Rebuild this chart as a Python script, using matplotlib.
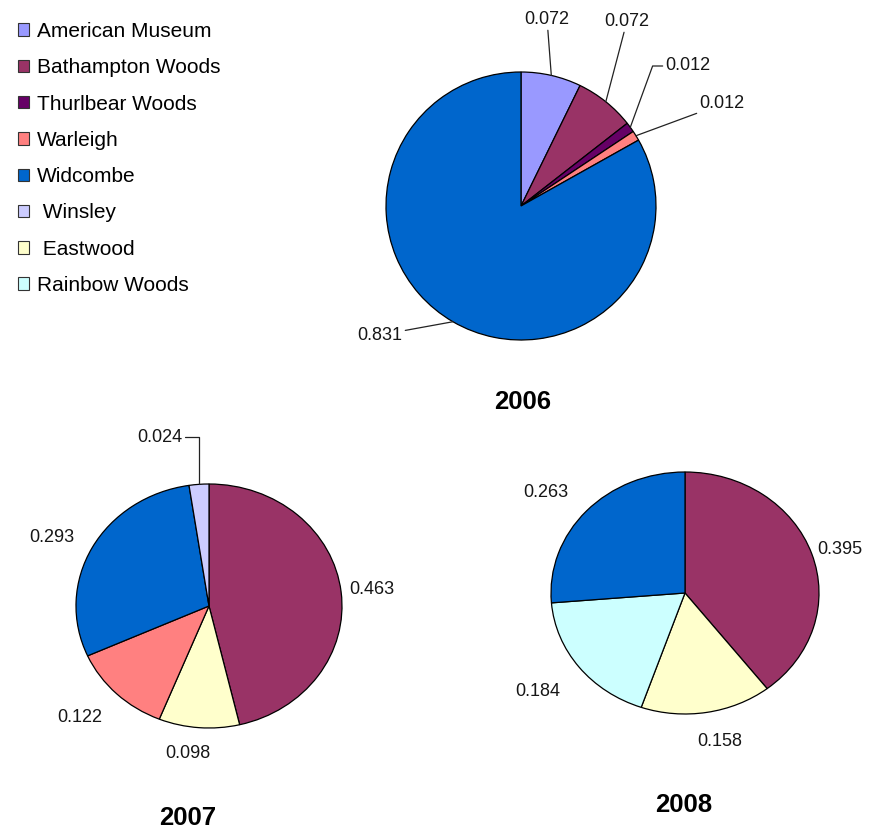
import numpy as np
import matplotlib.pyplot as plt
from matplotlib.patches import Patch

plt.rcParams['font.family'] = ['Liberation Sans', 'DejaVu Sans']

W, H = 871, 832

# site names and colours (legend order)
sites = ['American Museum', 'Bathampton Woods', 'Thurlbear Woods', 'Warleigh',
         'Widcombe', 'Winsley', 'Eastwood', 'Rainbow Woods']
legend_text = ['American Museum', 'Bathampton Woods', 'Thurlbear Woods', 'Warleigh',
               'Widcombe', ' Winsley', ' Eastwood', 'Rainbow Woods']
colors = {'American Museum': '#9999FF', 'Bathampton Woods': '#993366',
          'Thurlbear Woods': '#660066', 'Warleigh': '#FF8080',
          'Widcombe': '#0066CC', 'Winsley': '#CCCCFF',
          'Eastwood': '#FFFFCC', 'Rainbow Woods': '#CCFFFF'}

# proportions per year, clockwise from 12 o'clock
sites_2006 = ['American Museum', 'Bathampton Woods', 'Thurlbear Woods', 'Warleigh', 'Widcombe']
vals_2006 = [0.072, 0.072, 0.012, 0.012, 0.831]

sites_2007 = ['Bathampton Woods', 'Eastwood', 'Warleigh', 'Widcombe', 'Winsley']
vals_2007 = [0.463, 0.098, 0.122, 0.293, 0.024]

sites_2008 = ['Bathampton Woods', 'Eastwood', 'Rainbow Woods', 'Widcombe']
vals_2008 = [0.395, 0.158, 0.184, 0.263]

fig = plt.figure(figsize=(W / 100, H / 100), dpi=100)


def fxy(x, y):
    # pixel position -> figure fraction
    return (x / W, 1 - y / H)


def pie_axes(cx, cy, rx, ry):
    return fig.add_axes([(cx - rx) / W, 1 - (cy + ry) / H, 2 * rx / W, 2 * ry / H])


def draw_pie(ax, names, vals):
    ax.pie(vals, colors=[colors[n] for n in names], startangle=90, counterclock=False,
           wedgeprops=dict(edgecolor='black', linewidth=0.9))
    ax.set_aspect('auto')
    ax.set_xlim(-1, 1)
    ax.set_ylim(-1, 1)
    # mid angle of every slice, for leader lines
    frac = np.array(vals) / np.sum(vals)
    start = np.concatenate([[0], np.cumsum(frac)[:-1]])
    mid = np.deg2rad(90 - 360 * (start + frac / 2))
    return mid


def label(ax, mid, i, text, pos, leader=False, conn='arc3', ha='center'):
    if leader:
        ax.annotate(text, xy=(np.cos(mid[i]), np.sin(mid[i])), xycoords='data',
                    xytext=fxy(*pos), textcoords='figure fraction',
                    ha=ha, va='center', fontsize=13, color='#161616',
                    arrowprops=dict(arrowstyle='-', color='#222222', lw=0.9,
                                    connectionstyle=conn, shrinkA=0, shrinkB=0),
                    annotation_clip=False)
    else:
        fig.text(*fxy(*pos), text, ha=ha, va='center', fontsize=13, color='#161616')


# 2006
ax1 = pie_axes(521, 206, 135, 134)
m = draw_pie(ax1, sites_2006, vals_2006)
label(ax1, m, 0, f'{vals_2006[0]:.3f}', (547, 19), leader=True)
label(ax1, m, 1, f'{vals_2006[1]:.3f}', (627, 21), leader=True)
label(ax1, m, 2, f'{vals_2006[2]:.3f}', (688, 66), leader=True,
      conn='angle,angleA=0,angleB=70,rad=0')
label(ax1, m, 3, f'{vals_2006[3]:.3f}', (722, 104), leader=True)
label(ax1, m, 4, f'{vals_2006[4]:.3f}', (380, 335), leader=True)
fig.text(*fxy(523, 402), '2006', ha='center', va='center', fontsize=18.5, fontweight='bold')

# 2007
ax2 = pie_axes(209, 606, 133, 122)
m = draw_pie(ax2, sites_2007, vals_2007)
label(ax2, m, 0, f'{vals_2007[0]:.3f}', (372, 590))
label(ax2, m, 1, f'{vals_2007[1]:.3f}', (188, 754))
label(ax2, m, 2, f'{vals_2007[2]:.3f}', (80, 718))
label(ax2, m, 3, f'{vals_2007[3]:.3f}', (52, 538))
label(ax2, m, 4, f'{vals_2007[4]:.3f}', (160, 437), leader=True,
      conn='angle,angleA=0,angleB=90,rad=0')
fig.text(*fxy(188, 818), '2007', ha='center', va='center', fontsize=18.5, fontweight='bold')

# 2008
ax3 = pie_axes(685, 593, 134, 121)
m = draw_pie(ax3, sites_2008, vals_2008)
label(ax3, m, 0, f'{vals_2008[0]:.3f}', (840, 549))
label(ax3, m, 1, f'{vals_2008[1]:.3f}', (720, 742))
label(ax3, m, 2, f'{vals_2008[2]:.3f}', (538, 692))
label(ax3, m, 3, f'{vals_2008[3]:.3f}', (546, 493))
fig.text(*fxy(684, 805), '2008', ha='center', va='center', fontsize=18.5, fontweight='bold')

# legend
handles = [Patch(facecolor=colors[s], edgecolor='#333333', linewidth=0.8) for s in sites]
fig.legend(handles, legend_text, loc='upper left', bbox_to_anchor=fxy(18, 22),
           frameon=False, fontsize=15, handlelength=0.55, handleheight=0.55,
           handletextpad=0.35, labelspacing=0.83, borderpad=0, borderaxespad=0)

fig.savefig('out.png', dpi=100)
